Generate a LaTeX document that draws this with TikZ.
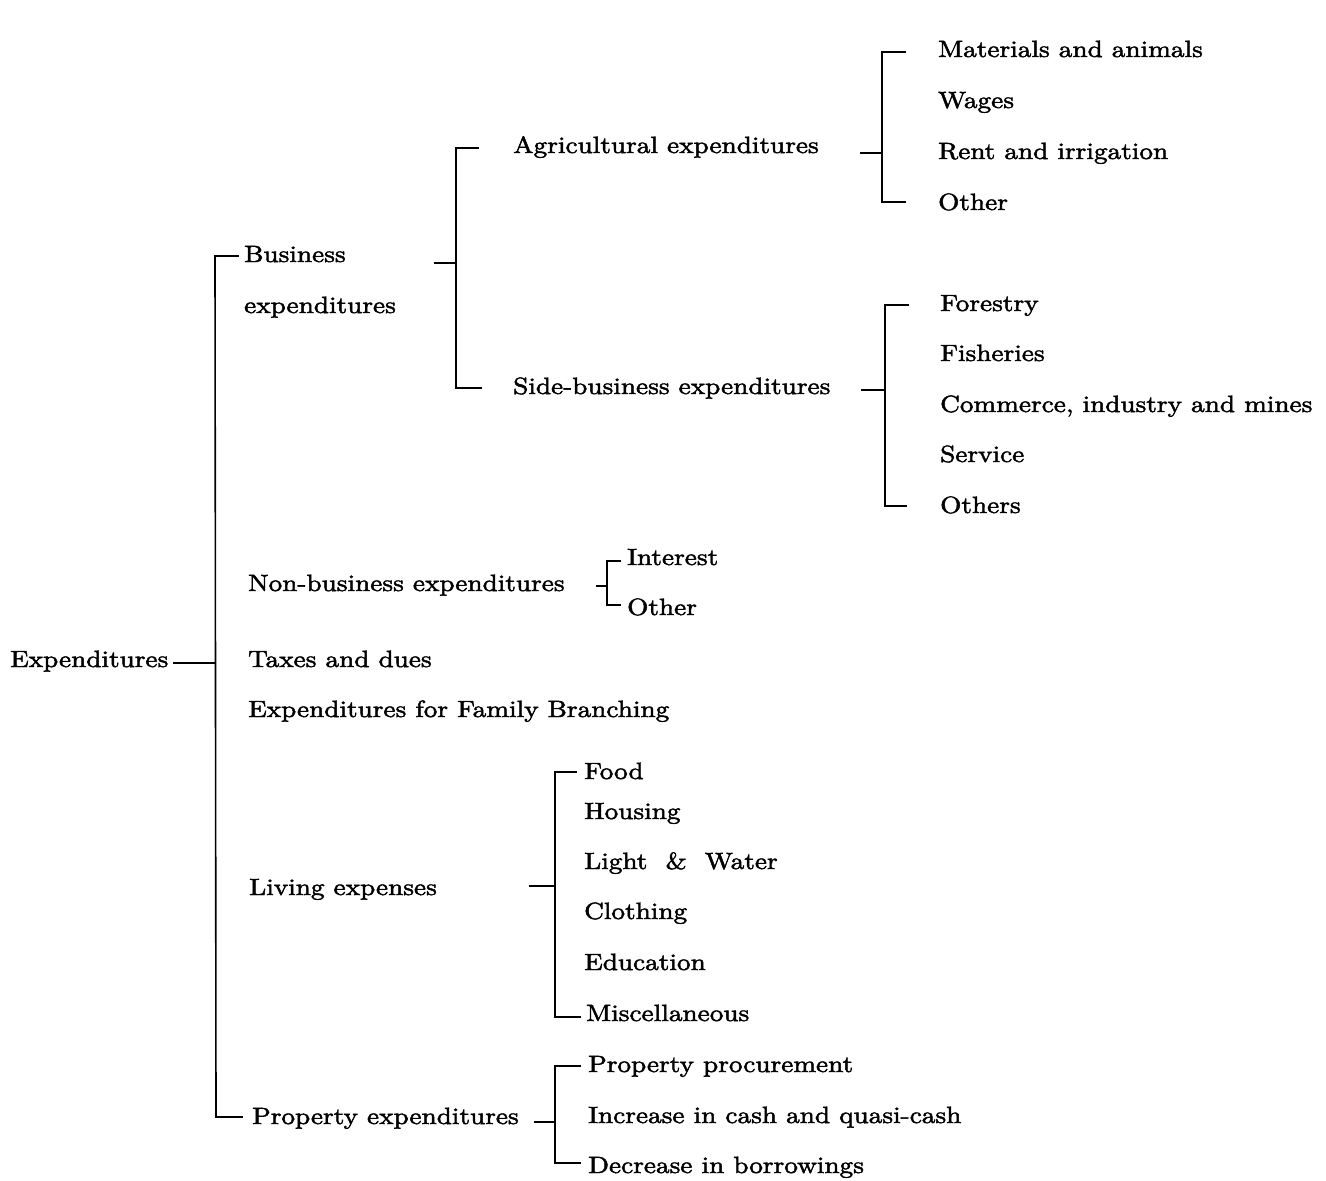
\documentclass[tikz,border=0pt]{standalone}
\usepackage{fontspec}
\setmainfont{lmroman10-regular.otf}[FakeStretch=1.16, FakeBold=2]
\begin{document}
\begin{tikzpicture}[x=1pt,y=-1pt,
  lbl/.style={anchor=base west, inner sep=0pt, font=\fontsize{23.5}{28}\selectfont},
  ln/.style={line width=1.6pt, line cap=rect}]
\useasboundingbox[fill=white] (0,0) rectangle (1326,1181);
% labels
\node[lbl] (exp) at (10,667) {Expenditures};
\node[lbl] (bus) at (244,262) {Business};
\node[lbl] (busx) at (244,313) {expenditures};
\node[lbl] (agr) at (513,153) {Agricultural expenditures};
\node[lbl] (side) at (513,394) {Side-business expenditures};
\node[lbl] (mat) at (938,57) {Materials and animals};
\node[lbl] (wag) at (938,108) {Wages};
\node[lbl] (rent) at (938,159) {Rent and irrigation};
\node[lbl] (oth1) at (938,210) {Other};
\node[lbl] (for) at (940,311) {Forestry};
\node[lbl] (fish) at (940,361) {Fisheries};
\node[lbl] (com) at (940,412) {Commerce, industry and mines};
\node[lbl] (serv) at (940,462) {Service};
\node[lbl] (oths) at (940,513) {Others};
\node[lbl] (nonb) at (248,591) {Non-business expenditures};
\node[lbl] (int) at (627,565) {Interest};
\node[lbl] (oth2) at (627,615) {Other};
\node[lbl] (tax) at (248,667) {Taxes and dues};
\node[lbl] (fam) at (248,717) {Expenditures for Family Branching};
\node[lbl] (liv) at (249,895) {Living expenses};
\node[lbl] (food) at (584,779) {Food};
\node[lbl] (hous) at (584,819) {Housing};
\node[lbl] (light) at (584,869) {Light \ \& \ Water};
\node[lbl] (cloth) at (584,919) {Clothing};
\node[lbl] (edu) at (584,970) {Education};
\node[lbl] (misc) at (586,1021) {Miscellaneous};
\node[lbl] (prop) at (252,1124) {Property expenditures};
\node[lbl] (pp) at (588,1072) {Property procurement};
\node[lbl] (inc) at (588,1123) {Increase in cash and quasi-cash};
\node[lbl] (dec) at (588,1173) {Decrease in borrowings};
% bracket 0: Expenditures
\coordinate (s0) at (174,663); \coordinate (j0) at (215,663);
\coordinate (t0) at (215,256); \coordinate (tt0) at (238,256);
\coordinate (b0) at (216,1117); \coordinate (bb0) at (242,1117);
\draw[ln] (s0) -- (j0);
\draw[ln] (tt0) -- (t0) -- (b0) -- (bb0);
% bracket 1: Business expenditures
\coordinate (s1) at (435,263); \coordinate (j1) at (456,263);
\coordinate (t1) at (456,148); \coordinate (tt1) at (478,148);
\coordinate (b1) at (456,388); \coordinate (bb1) at (481,388);
\draw[ln] (s1) -- (j1);
\draw[ln] (tt1) -- (t1) -- (b1) -- (bb1);
% bracket 2: Agricultural
\coordinate (s2) at (861,153); \coordinate (j2) at (882,153);
\coordinate (t2) at (882,52); \coordinate (tt2) at (905,52);
\coordinate (b2) at (882,202); \coordinate (bb2) at (905,202);
\draw[ln] (s2) -- (j2);
\draw[ln] (tt2) -- (t2) -- (b2) -- (bb2);
% bracket 3: Side-business
\coordinate (s3) at (862,390); \coordinate (j3) at (885,390);
\coordinate (t3) at (885,305); \coordinate (tt3) at (908,305);
\coordinate (b3) at (885,506); \coordinate (bb3) at (906,506);
\draw[ln] (s3) -- (j3);
\draw[ln] (tt3) -- (t3) -- (b3) -- (bb3);
% bracket 4: Non-business
\coordinate (s4) at (597,586); \coordinate (j4) at (607,586);
\coordinate (t4) at (607,561); \coordinate (tt4) at (620,561);
\coordinate (b4) at (607,605); \coordinate (bb4) at (620,605);
\draw[ln] (s4) -- (j4);
\draw[ln] (tt4) -- (t4) -- (b4) -- (bb4);
% bracket 5: Living expenses
\coordinate (s5) at (530,886); \coordinate (j5) at (555,886);
\coordinate (t5) at (555,772); \coordinate (tt5) at (576,772);
\coordinate (b5) at (555,1017); \coordinate (bb5) at (580,1017);
\draw[ln] (s5) -- (j5);
\draw[ln] (tt5) -- (t5) -- (b5) -- (bb5);
% bracket 6: Property
\coordinate (s6) at (535,1122); \coordinate (j6) at (555,1122);
\coordinate (t6) at (555,1066); \coordinate (tt6) at (580,1066);
\coordinate (b6) at (555,1163); \coordinate (bb6) at (580,1163);
\draw[ln] (s6) -- (j6);
\draw[ln] (tt6) -- (t6) -- (b6) -- (bb6);
\end{tikzpicture}
\end{document}
